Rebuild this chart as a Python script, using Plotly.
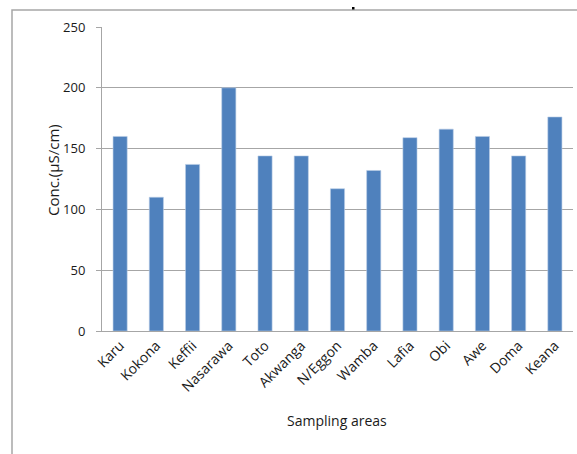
import plotly.graph_objects as go

categories = ["Karu", "Kokona", "Keffii", "Nasarawa", "Toto", "Akwanga", "N/Eggon",
              "Wamba", "Lafia", "Obi", "Awe", "Doma", "Keana"]
conductivity = [160, 110, 137, 200, 144, 144, 117, 132, 159, 166, 160, 144, 176]
y_ticks = [0, 50, 100, 150, 200, 250]

W, H = 577, 454
L, R, T, B = 102, 4, 27, 123
pw, ph = W - L - R, H - T - B

def px(x):
    return (x - L) / pw

def py(y):
    return (H - B - y) / ph

fig = go.Figure()
fig.add_trace(go.Bar(
    x=categories, y=conductivity,
    marker=dict(color="#4F81BD", line=dict(color="#B9CDE5", width=0.6)),
))

font = "Open Sans, Noto Sans, sans-serif"
txt = "#1a1a1a"
fig.update_layout(
    width=W, height=H,
    margin=dict(l=L, r=R, t=T, b=B),
    paper_bgcolor="white", plot_bgcolor="white",
    bargap=0.61,
    showlegend=False,
    font=dict(family=font, size=13, color=txt),
    xaxis=dict(
        showgrid=False, showline=True, linecolor="#a6a6a6", linewidth=1,
        ticks="", tickangle=-45, tickfont=dict(size=14, color=txt),
        automargin=False,
    ),
    yaxis=dict(
        range=[0, 250], tickvals=y_ticks, showgrid=True, gridcolor="#a6a6a6", gridwidth=1,
        showline=True, linecolor="#a6a6a6", linewidth=1,
        ticks="outside", ticklen=5, tickcolor="#a6a6a6", ticklabelstandoff=8,
        tickfont=dict(size=13, color=txt), zeroline=False, automargin=False,
    ),
    shapes=[
        dict(type="rect", xref="paper", yref="paper",
             x0=px(12), x1=px(590), y0=py(470), y1=py(10),
             line=dict(color="#a6a6a6", width=1.5), layer="below"),
        dict(type="rect", xref="paper", yref="paper",
             x0=px(352), x1=px(354.5), y0=py(9.5), y1=py(7),
             fillcolor="black", line=dict(width=0)),
    ],
    annotations=[
        dict(text="Conc.(µS/cm)", xref="paper", yref="paper", x=px(41), y=py(170),
             showarrow=False, textangle=-90, font=dict(size=15, color=txt)),
        dict(text="Sampling areas", xref="paper", yref="paper", x=px(337), y=py(432),
             showarrow=False, font=dict(size=14, color=txt)),
    ],
)

fig.write_html("out.html")
